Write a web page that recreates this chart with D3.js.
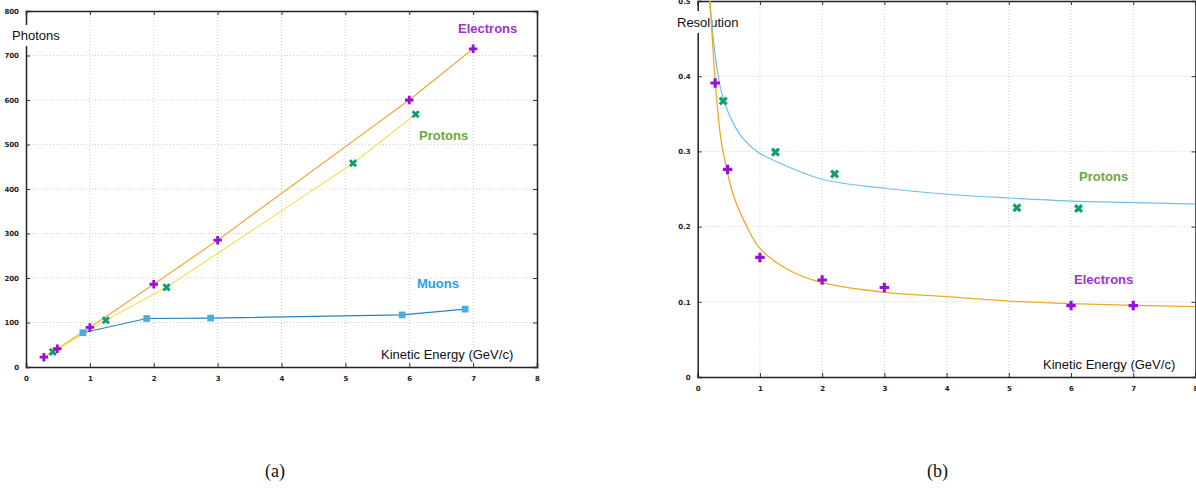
<!DOCTYPE html>
<html>
<head>
<meta charset="utf-8">
<script src="https://cdn.jsdelivr.net/npm/d3@7/dist/d3.min.js"></script>
<style>
  body { margin: 0; background: #fff; }
  svg { display: block; }
</style>
</head>
<body>
<svg id="chart" width="1196" height="492"></svg>
<script>
// ticks
const energyTicks = [0, 1, 2, 3, 4, 5, 6, 7, 8];
const photonTicks = [0, 100, 200, 300, 400, 500, 600, 700, 800];
const resolutionTicks = [0, 0.1, 0.2, 0.3, 0.4, 0.5];

// (a) photons vs kinetic energy
const electronEnergyA = [0.28, 0.49, 1, 2, 3, 6, 7];
const electronPhotons = [22, 41, 89, 186, 285, 600, 715];
const protonEnergyA = [0.42, 1.25, 2.2, 5.12, 6.1];
const protonPhotons = [34, 105, 179, 458, 568];
const muonEnergy = [0.89, 1.89, 2.89, 5.89, 6.875];
const muonPhotons = [77, 109, 110, 117, 130];

// (b) resolution vs kinetic energy
const electronEnergyB = [0.28, 0.48, 1, 2, 3, 6, 7];
const electronRes = [0.391, 0.276, 0.159, 0.129, 0.119, 0.095, 0.095];
const protonEnergyB = [0.41, 1.25, 2.2, 5.13, 6.12];
const protonRes = [0.367, 0.299, 0.27, 0.225, 0.224];
// fit curves
const electronFitEnergy = [0.2, 0.235, 0.275, 0.31, 0.375, 0.47, 0.58, 0.79, 1, 1.47, 2, 3, 4, 5, 6, 7, 8];
const electronFitRes = [0.5, 0.45, 0.4, 0.365, 0.315, 0.275, 0.24, 0.2, 0.171, 0.142, 0.1254, 0.1126, 0.1068, 0.101, 0.0975, 0.0953, 0.0935];
const protonFitEnergy = [0.19, 0.25, 0.33, 0.41, 0.5, 0.6, 0.73, 0.95, 1.25, 2, 3, 4, 5, 6, 7, 8];
const protonFitRes = [0.5, 0.45, 0.4, 0.37, 0.35, 0.333, 0.317, 0.3, 0.287, 0.263, 0.251, 0.243, 0.238, 0.234, 0.232, 0.23];

const zip = (xs, ys) => xs.map((x, i) => ({ x: x, y: ys[i] }));

const svg = d3.select("#chart");
svg.append("rect").attr("width", 1196).attr("height", 492).attr("fill", "#fff");

const tickFont = "DejaVu Sans, sans-serif";
const labelFont = "Liberation Sans, Arial, sans-serif";

function frame(x, y, xTicks, yTicks, fmt, ylabel, ylabelBox) {
  const [l, r] = x.range();
  const [b, t] = y.range();
  const g = svg.append("g");

  // dotted grid
  g.append("g").selectAll("line").data(xTicks.slice(1, -1)).join("line")
    .attr("x1", (d) => x(d)).attr("x2", (d) => x(d))
    .attr("y1", t).attr("y2", b)
    .attr("stroke", "#cfcfcf").attr("stroke-dasharray", "1,2");
  g.append("g").selectAll("line").data(yTicks.slice(1, -1)).join("line")
    .attr("y1", (d) => y(d)).attr("y2", (d) => y(d))
    .attr("x1", l).attr("x2", r)
    .attr("stroke", "#cfcfcf").attr("stroke-dasharray", "1,2");

  // axes, ticks pointing inward on all four sides
  g.append("g").attr("transform", `translate(0,${b})`)
    .call(d3.axisBottom(x).tickValues(xTicks).tickSize(-4).tickPadding(9).tickFormat(fmt.x));
  g.append("g").attr("transform", `translate(${l},0)`)
    .call(d3.axisLeft(y).tickValues(yTicks).tickSize(-4).tickPadding(7).tickFormat(fmt.y));
  g.append("g").attr("transform", `translate(0,${t})`)
    .call(d3.axisTop(x).tickValues(xTicks).tickSize(-4).tickFormat(""));
  g.append("g").attr("transform", `translate(${r},0)`)
    .call(d3.axisRight(y).tickValues(yTicks).tickSize(-4).tickFormat(""));
  g.selectAll(".domain").attr("stroke", "#222").attr("stroke-width", 1.5);
  g.selectAll(".tick line").attr("stroke", "#333");
  g.selectAll(".tick text")
    .attr("font-family", tickFont).attr("font-size", 7)
    .attr("font-weight", "bold").attr("fill", "#222");

  // y label sits in a white box over the axis
  g.append("rect")
    .attr("x", ylabelBox[0]).attr("y", ylabelBox[1])
    .attr("width", ylabelBox[2]).attr("height", ylabelBox[3])
    .attr("fill", "#fff");
  g.append("text")
    .attr("x", ylabelBox[0] + 4).attr("y", ylabelBox[1] + ylabelBox[3] / 2)
    .attr("dy", "0.35em")
    .attr("font-family", labelFont).attr("font-size", 13).attr("fill", "#111")
    .text(ylabel);
  return g;
}

function label(txt, x, y, color, bold) {
  svg.append("text")
    .attr("x", x).attr("y", y).attr("dy", "0.35em")
    .attr("font-family", labelFont).attr("font-size", 13)
    .attr("font-weight", bold ? "bold" : "normal")
    .attr("fill", color).text(txt);
}

function markers(pts, x, y, type, size, color, rotate) {
  svg.append("g").selectAll("path").data(pts).join("path")
    .attr("transform", (d) => `translate(${x(d.x)},${y(d.y)}) rotate(${rotate})`)
    .attr("d", d3.symbol().type(type).size(size))
    .attr("fill", color);
}

// ---------- (a)
const xa = d3.scaleLinear().domain([0, 8]).range([26, 537]);
const ya = d3.scaleLinear().domain([0, 800]).range([367, 11]);
frame(xa, ya, energyTicks, photonTicks, { x: d3.format("d"), y: d3.format("d") }, "Photons", [8, 25, 58, 21]);

const lineA = d3.line().x((d) => xa(d.x)).y((d) => ya(d.y));
svg.append("path").datum(zip(electronEnergyA, electronPhotons))
  .attr("d", lineA).attr("fill", "none").attr("stroke", "#eeaa3a").attr("stroke-width", 1.2);
svg.append("path").datum(zip(protonEnergyA, protonPhotons))
  .attr("d", lineA).attr("fill", "none").attr("stroke", "#f2e25a").attr("stroke-width", 1.2);
svg.append("path").datum(zip(muonEnergy, muonPhotons))
  .attr("d", lineA).attr("fill", "none").attr("stroke", "#2a80c0").attr("stroke-width", 1.2);

markers(zip(muonEnergy, muonPhotons), xa, ya, d3.symbolSquare, 45, "#4aaae2", 0);
markers(zip(protonEnergyA, protonPhotons), xa, ya, d3.symbolCross, 42, "#0f9e72", 45);
markers(zip(electronEnergyA, electronPhotons), xa, ya, d3.symbolCross, 40, "#9a10d8", 0);

label("Electrons", 458, 28, "#9c33cf", true);
label("Protons", 419, 135, "#6aa83e", true);
label("Muons", 417, 283, "#1ca5df", true);
label("Kinetic Energy (GeV/c)", 381, 354, "#111", false);

// ---------- (b)
const xb = d3.scaleLinear().domain([0, 8]).range([697.7, 1195.5]);
const yb = d3.scaleLinear().domain([0, 0.5]).range([377, 1]);
frame(xb, yb, energyTicks, resolutionTicks, { x: d3.format("d"), y: d3.format("~g") }, "Resolution", [673, 11, 72, 22]);

svg.append("clipPath").attr("id", "clipB").append("rect")
  .attr("x", 697.7).attr("y", 1).attr("width", 497.8).attr("height", 376);
const curveB = d3.line().x((d) => xb(d.x)).y((d) => yb(d.y)).curve(d3.curveCatmullRom.alpha(0.5));
svg.append("path").datum(zip(protonFitEnergy, protonFitRes))
  .attr("clip-path", "url(#clipB)")
  .attr("d", curveB).attr("fill", "none").attr("stroke", "#6fbfec").attr("stroke-width", 1.2);
svg.append("path").datum(zip(electronFitEnergy, electronFitRes))
  .attr("clip-path", "url(#clipB)")
  .attr("d", curveB).attr("fill", "none").attr("stroke", "#eeaa2a").attr("stroke-width", 1.3);

markers(zip(protonEnergyB, protonRes), xb, yb, d3.symbolCross, 52, "#0f9e72", 45);
markers(zip(electronEnergyB, electronRes), xb, yb, d3.symbolCross, 50, "#9a10d8", 0);

label("Protons", 1079, 176, "#6aa83e", true);
label("Electrons", 1074, 279, "#9c33cf", true);
label("Kinetic Energy (GeV/c)", 1043, 364, "#111", false);

// captions
svg.append("text").attr("x", 275).attr("y", 477).attr("text-anchor", "middle")
  .attr("font-family", "Liberation Serif, serif").attr("font-size", 18).attr("fill", "#111").text("(a)");
svg.append("text").attr("x", 937.5).attr("y", 477).attr("text-anchor", "middle")
  .attr("font-family", "Liberation Serif, serif").attr("font-size", 18).attr("fill", "#111").text("(b)");
</script>
</body>
</html>
